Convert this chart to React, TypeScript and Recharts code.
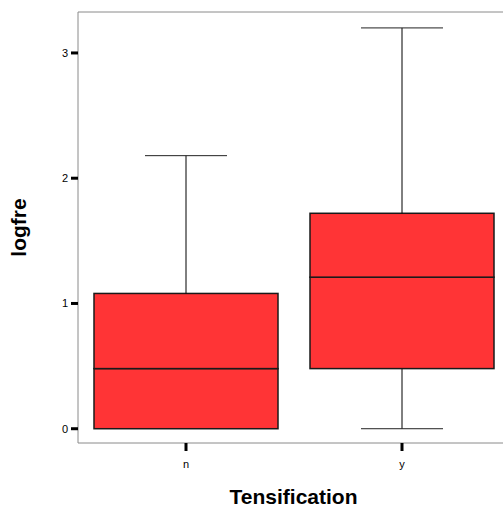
import { ComposedChart, Bar, XAxis, YAxis, ReferenceLine } from "recharts";

const categories = ["n", "y"];
const mins = [0, 0];
const q1s = [0, 0.48];
const medians = [0.48, 1.21];
const q3s = [1.08, 1.72];
const maxes = [2.18, 3.2];

const yTicks = [0, 1, 2, 3];

const FONT = '"Liberation Sans", Arial, sans-serif';
const BOX_FILL = "#ff3436";
const BOX_STROKE = "#1a1a1a";
const FRAME = "#8a8a8a";

const data = categories.map((c, i) => ({
  name: c,
  base: mins[i],
  lowWhisker: q1s[i] - mins[i],
  lowBox: medians[i] - q1s[i],
  highBox: q3s[i] - medians[i],
  highWhisker: maxes[i] - q3s[i],
}));

function BoxPart(props: any) {
  const { x, y, width, height } = props;
  if (!height) return null;
  return (
    <rect x={x} y={y} width={width} height={height} fill={BOX_FILL} stroke={BOX_STROKE} strokeWidth={1.5} />
  );
}

function Whisker(props: any) {
  const { x, y, width, height, top } = props;
  if (!height) return null;
  const cx = x + width / 2;
  const capY = top ? y : y + height;
  return (
    <g>
      <line x1={cx} y1={y} x2={cx} y2={y + height} stroke="#000" strokeWidth={1} />
      <line x1={cx - 41} y1={capY} x2={cx + 41} y2={capY} stroke="#222" strokeWidth={1} />
    </g>
  );
}

function YTitle(props: any) {
  const vb = props.viewBox;
  const cy = vb.y + vb.height / 2;
  return (
    <text
      x={18}
      y={cy}
      transform={`rotate(-90 18 ${cy})`}
      textAnchor="middle"
      dominantBaseline="central"
      fontFamily={FONT}
      fontWeight="bold"
      fontSize={21}
      fill="#000"
    >
      logfre
    </text>
  );
}

export default function App() {
  return (
    <div style={{ position: "fixed", left: 0, top: 0, width: 503, height: 510, overflow: "hidden", background: "#fff" }}>
      <ComposedChart
        width={503}
        height={510}
        data={data}
        margin={{ top: 12, right: 0, left: 0, bottom: 0 }}
        barSize={184}
      >
        <ReferenceLine y={3.327} stroke={FRAME} strokeWidth={1} ifOverflow="visible" />
        <XAxis
          dataKey="name"
          height={67}
          padding={{ left: 0, right: -7 }}
          axisLine={{ stroke: FRAME }}
          tickLine={{ stroke: "#000", strokeWidth: 3 }}
          tickSize={8}
          tickMargin={9}
          tick={{ fontSize: 11, fill: "#000", fontFamily: FONT }}
          label={{
            value: "Tensification",
            position: "insideBottom",
            offset: 6,
            fontSize: 21,
            fontWeight: "bold",
            fill: "#000",
            fontFamily: FONT,
            dx: 3,
          }}
        />
        <YAxis
          width={78}
          domain={[-0.114, 3.327]}
          ticks={yTicks}
          axisLine={{ stroke: FRAME }}
          tickLine={{ stroke: "#000", strokeWidth: 3 }}
          tickSize={7}
          tickMargin={3}
          tick={{ fontSize: 11, fill: "#000", fontFamily: FONT }}
          label={<YTitle />}
        />
        <Bar dataKey="base" stackId="a" fill="none" isAnimationActive={false} />
        <Bar dataKey="lowWhisker" stackId="a" shape={(p: any) => <Whisker {...p} top={false} />} isAnimationActive={false} />
        <Bar dataKey="lowBox" stackId="a" shape={(p: any) => <BoxPart {...p} />} isAnimationActive={false} />
        <Bar dataKey="highBox" stackId="a" shape={(p: any) => <BoxPart {...p} />} isAnimationActive={false} />
        <Bar dataKey="highWhisker" stackId="a" shape={(p: any) => <Whisker {...p} top={true} />} isAnimationActive={false} />
      </ComposedChart>
    </div>
  );
}
